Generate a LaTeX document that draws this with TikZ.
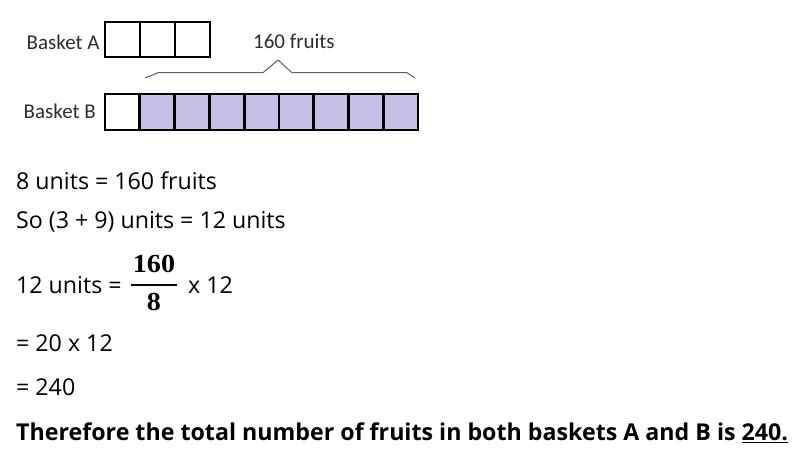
\documentclass[tikz,border=0pt]{standalone}
\usepackage{fontspec}
\setmainfont{Open Sans}
\newfontfamily\lblfont{Carlito}
\newfontfamily\fracfont[FakeStretch=1.08]{Liberation Serif}
\definecolor{unitfill}{RGB}{199,191,230}
\definecolor{lblcol}{RGB}{45,45,45}
\definecolor{bracegray}{RGB}{95,95,95}
\tikzset{
  cella/.style={draw=black, line width=2.8pt, fill=white, minimum width=35pt, minimum height=35pt, inner sep=0pt, outer sep=0pt},
  cellb/.style={draw=black, line width=2.8pt, fill=unitfill, minimum width=34.78pt, minimum height=36pt, inner sep=0pt, outer sep=0pt},
  lbl/.style={inner sep=0pt, anchor=base west, text=lblcol, font=\lblfont\fontsize{21}{24}\selectfont},
  txt/.style={inner sep=0pt, anchor=base west, text=black, font=\fontsize{23.2}{27}\selectfont},
  btxt/.style={inner sep=0pt, anchor=base west, text=black, font=\bfseries\fontsize{23.2}{27}\selectfont},
  fracnum/.style={inner sep=0pt, anchor=base, text=black, font=\fracfont\bfseries\fontsize{26}{30}\selectfont},
  bracestyle/.style={draw=bracegray, line width=1pt, line join=round}
}
\begin{document}
\begin{tikzpicture}[x=1pt,y=-1pt]
\useasboundingbox (0,0) rectangle (801,459);
% labels
\node[lbl] (la) at (26.5,49) {Basket A};
\node[lbl] (lb) at (23.5,118.3) {Basket B};
\node[lbl] (lf) at (253,48.7) {160 fruits};
% basket A
\foreach \i in {0,1,2} {
  \node[cella] (a\i) at (122.5+35*\i,39.5) {};
}
% basket B
\node[cellb, fill=white] (b0) at (122.39,112) {};
\foreach \i in {1,...,8} {
  \node[cellb] (b\i) at (122.39+34.78*\i,112) {};
}
% brace
\coordinate (br0) at (145,78);
\coordinate (br1) at (158,72.7);
\coordinate (br2) at (263,72.7);
\coordinate (brp) at (278,60);
\coordinate (br3) at (292,72.7);
\coordinate (br4) at (407,72.7);
\coordinate (br5) at (415,78);
\draw[bracestyle] (br0) -- (br1) -- (br2) -- (brp) -- (br3) -- (br4) -- (br5);
% working
\node[txt] (l1) at (16,189) {8 units = 160 fruits};
\node[txt] (l2) at (16,228) {So (3 + 9) units = 12 units};
\node[txt] (l3) at (16,293.3) {12 units =};
\node[fracnum] (fn) at (154,272) {160};
\node[fracnum] (fd) at (154,310) {8};
\coordinate (fbl) at (131,285);
\coordinate (fbr) at (177,285);
\draw[line width=1.3pt] (fbl) -- (fbr);
\node[txt] (l3b) at (188,293.3) {x 12};
\node[txt] (l4) at (16,351) {= 20 x 12};
\node[txt] (l5) at (16,395) {= 240};
\node[btxt] (l6) at (16,440) {Therefore the total number of fruits in both baskets A and B is \underline{240.}};
\end{tikzpicture}
\end{document}
